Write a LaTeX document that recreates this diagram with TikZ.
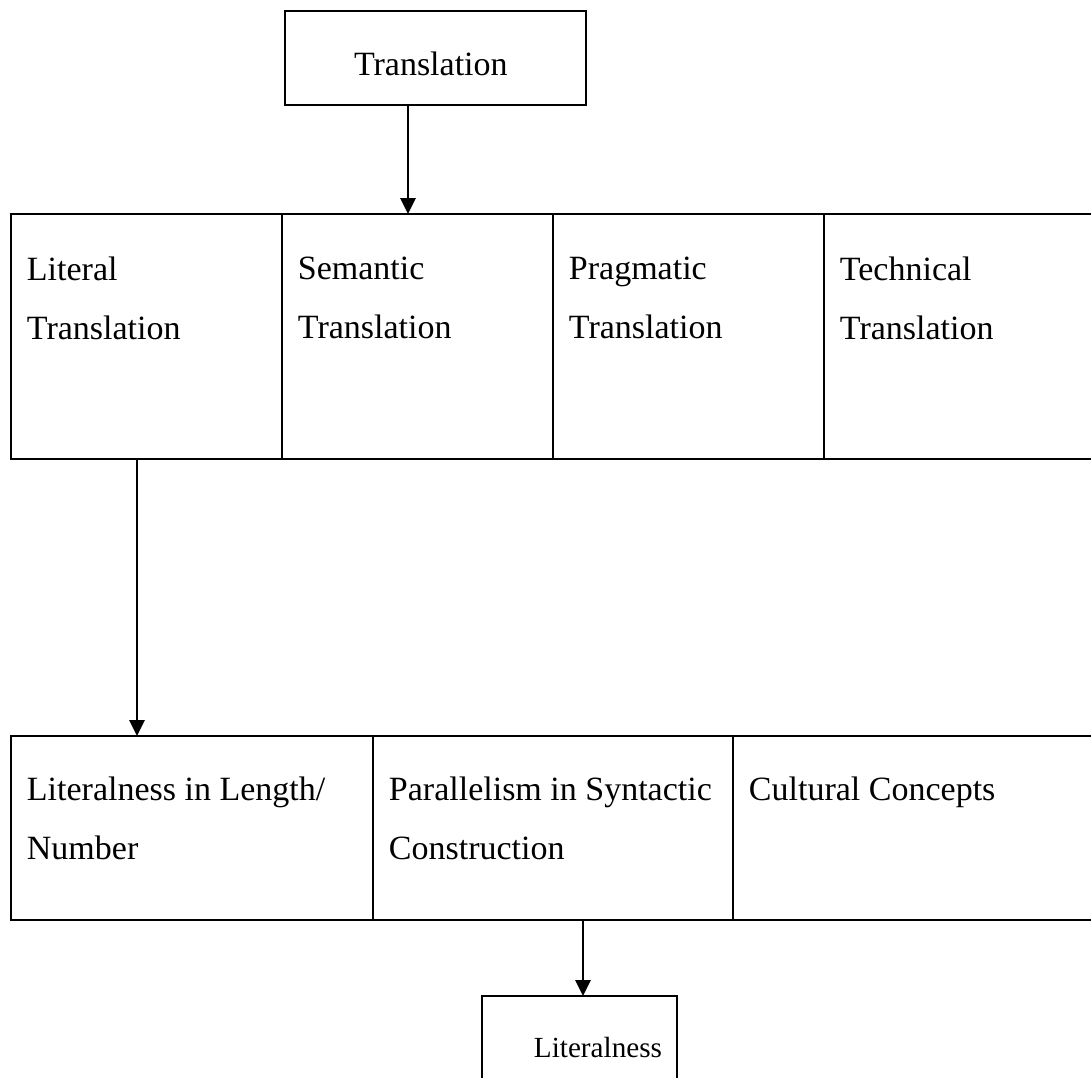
\documentclass[tikz,border=0pt]{standalone}
\usepackage{fontspec}
\setmainfont{Liberation Serif}
\usetikzlibrary{positioning,arrows.meta}
\tikzset{
>={Triangle[length=12pt,width=11.5pt]},
}

\begin{document}
\begin{tikzpicture}
    [x=0.75pt, y=-0.75pt,
    line width=1.4pt,
    cell/.style={draw, rectangle, outer sep=0pt, inner sep=0pt, anchor=north west},
    wide/.style={cell, minimum width=203.25pt, minimum height=183.75pt},
    cat/.style={cell, minimum width=270pt, minimum height=138pt},
    txt/.style={anchor=north west, align=left, inner sep=0pt, xshift=11.25pt, yshift=-30pt,
        font=\fontsize{25.5}{44.25}\selectfont},
    txtup/.style={txt, yshift=-1.8pt}
    ]

    \clip (0,0) rectangle (1091,1077);
    \useasboundingbox (0,0) rectangle (1091,1077);

    \node [cell, minimum width=225.75pt, minimum height=70.5pt, text height=27pt, text depth=0pt,
        font=\fontsize{25.5}{30}\selectfont] (trans) at (285,11) {\hspace*{-7pt}Translation};

    \node [wide, label={[txtup]north west:{Literal\\Translation}}] (lit) at (11,214) {};
    \node [wide, label={[txtup]north west:{Semantic\\Translation}}] (sem) [right=0pt of lit] {};
    \node [wide, label={[txtup]north west:{Pragmatic\\Translation}}] (prag) [right=0pt of sem] {};
    \node [wide, label={[txtup]north west:{Technical\\Translation}}] (tech) [right=0pt of prag] {};

    \node [cat, minimum width=271.5pt, label={[txt]north west:{Literalness in Length/\\Number}}] (len) at (11,736) {};
    \node [cat, label={[txt]north west:{Parallelism in Syntactic\\Construction}}] (syn) [right=0pt of len] {};
    \node [cat, label={[txt]north west:{Cultural Concepts}}] (cult) [right=0pt of syn] {};

    \node [cell, minimum width=146.25pt, minimum height=90pt,
        label={[txt, xshift=27pt, font=\fontsize{21.9}{26}\selectfont]north west:{Literalness}}] (lit2) at (482,996) {};

    \path (trans.south) ++(-27.5,0) coordinate (a1);
    \path (lit.south) ++(-9.5,0) coordinate (a2);
    \path (lit2.north) ++(3.5,0) coordinate (a3);

    \draw[->] (a1) -- (a1 |- sem.north);
    \draw[->] (a2) -- (a2 |- len.north);
    \draw[->] (a3 |- syn.south) -- (a3);

\end{tikzpicture}
\end{document}
